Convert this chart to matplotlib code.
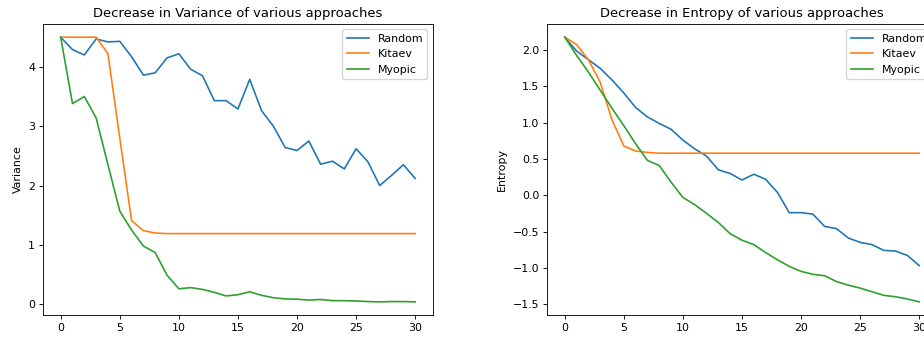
import matplotlib
matplotlib.use("Agg")
import matplotlib.pyplot as plt

steps = list(range(31))

var_random = [4.50, 4.29, 4.20, 4.47, 4.42, 4.43, 4.17, 3.86, 3.90, 4.15, 4.22,
              3.96, 3.85, 3.43, 3.43, 3.29, 3.79, 3.26, 3.00, 2.64, 2.59,
              2.75, 2.36, 2.41, 2.28, 2.62, 2.40, 2.00, 2.17, 2.35, 2.12]
var_kitaev = [4.50, 4.50, 4.50, 4.50, 4.22, 2.80, 1.41, 1.24, 1.20, 1.19, 1.19,
              1.19, 1.19, 1.19, 1.19, 1.19, 1.19, 1.19, 1.19, 1.19, 1.19,
              1.19, 1.19, 1.19, 1.19, 1.19, 1.19, 1.19, 1.19, 1.19, 1.19]
var_myopic = [4.50, 3.38, 3.50, 3.14, 2.35, 1.57, 1.25, 0.98, 0.87, 0.49, 0.26,
              0.28, 0.25, 0.20, 0.14, 0.16, 0.21, 0.15, 0.11, 0.09, 0.085,
              0.07, 0.08, 0.06, 0.06, 0.055, 0.045, 0.04, 0.045, 0.045, 0.04]

ent_random = [2.18, 1.99, 1.87, 1.75, 1.59, 1.41, 1.21, 1.08, 0.99, 0.91, 0.76,
              0.64, 0.54, 0.35, 0.30, 0.21, 0.29, 0.22, 0.04, -0.24, -0.24,
              -0.26, -0.43, -0.46, -0.59, -0.65, -0.68, -0.76, -0.77, -0.83, -0.97]
ent_kitaev = [2.18, 2.08, 1.87, 1.56, 1.04, 0.68, 0.61, 0.59, 0.58, 0.58, 0.58,
              0.58, 0.58, 0.58, 0.58, 0.58, 0.58, 0.58, 0.58, 0.58, 0.58,
              0.58, 0.58, 0.58, 0.58, 0.58, 0.58, 0.58, 0.58, 0.58, 0.58]
ent_myopic = [2.18, 1.93, 1.70, 1.45, 1.20, 0.96, 0.71, 0.48, 0.41, 0.18, -0.03,
              -0.13, -0.25, -0.375, -0.53, -0.62, -0.68, -0.79, -0.89, -0.98, -1.05,
              -1.09, -1.11, -1.19, -1.24, -1.28, -1.33, -1.38, -1.40, -1.43, -1.47]

# the screenshot looks like a default figure shrunk to ~80 %
s = 0.79
plt.rcParams.update({
    "font.size": 10 * s,
    "axes.titlesize": 12 * s,
    "lines.linewidth": 1.5 * s,
    "axes.linewidth": 0.8 * s,
    "xtick.major.size": 3.5 * s,
    "ytick.major.size": 3.5 * s,
    "xtick.major.width": 0.8 * s,
    "ytick.major.width": 0.8 * s,
    "xtick.major.pad": 3.5 * s,
    "ytick.major.pad": 3.5 * s,
    "axes.titlepad": 6 * s,
    "legend.fontsize": 10 * s,
})

fig = plt.figure(figsize=(9.24, 3.37), dpi=100)

# left panel
ax1 = fig.add_axes([0.0465, 0.065, 0.422, 0.864])
ax1.plot(steps, var_random, label="Random")
ax1.plot(steps, var_kitaev, label="Kitaev")
ax1.plot(steps, var_myopic, label="Myopic")
ax1.set_title("Decrease in Variance of various approaches")
ax1.set_ylabel("Variance")
ax1.set_yticks([0, 1, 2, 3, 4])
ax1.legend(loc="upper right")

# right panel (original screenshot is cut off on the right)
ax2 = fig.add_axes([0.592, 0.065, 0.422, 0.864])
ax2.plot(steps, ent_random, label="Random")
ax2.plot(steps, ent_kitaev, label="Kitaev")
ax2.plot(steps, ent_myopic, label="Myopic")
ax2.set_title("Decrease in Entropy of various approaches")
ax2.set_ylabel("Entropy")
ax2.legend(loc="upper right")

fig.savefig("out.png", dpi=100)
